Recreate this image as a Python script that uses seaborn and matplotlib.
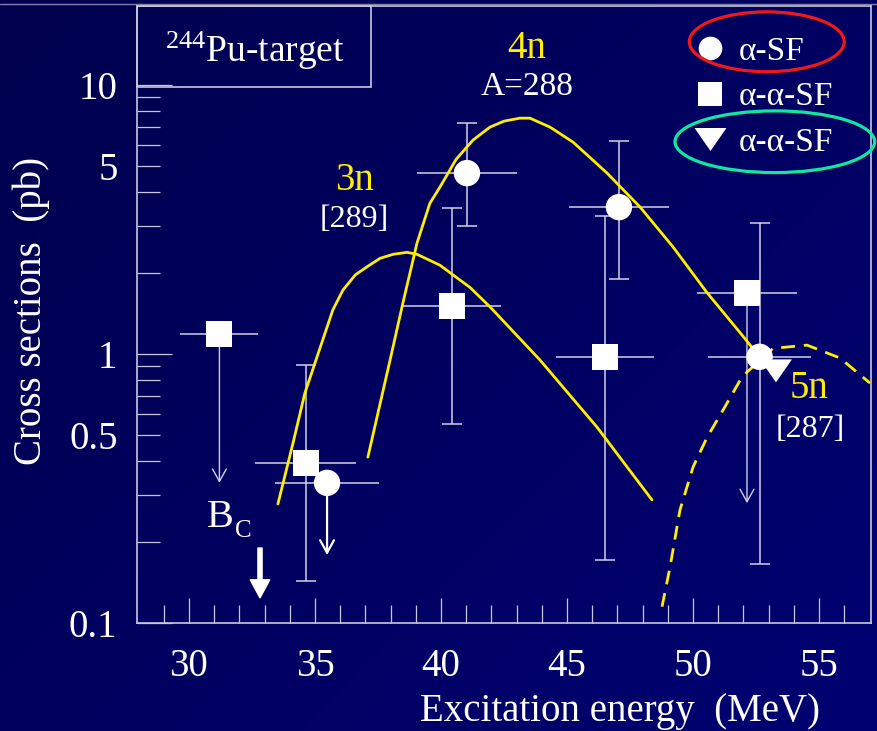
import numpy as np
import pandas as pd
import matplotlib
matplotlib.use("Agg")
import matplotlib.pyplot as plt
import seaborn as sns
from matplotlib.patches import Ellipse, Rectangle
from matplotlib.lines import Line2D
from matplotlib.path import Path
from matplotlib.ticker import FixedLocator, FuncFormatter

# ---------------- data ----------------
# calculated excitation functions
curve_3n_E = [33.53, 34.13, 34.60, 35.04, 35.71, 36.11, 36.60, 37.06, 37.58, 38.10, 38.65, 39.05, 39.96, 41.15, 41.94, 43.93, 46.19, 48.37]
curve_3n_sigma = [0.277, 0.467, 0.716, 0.95, 1.46, 1.73, 1.97, 2.11, 2.27, 2.35, 2.39, 2.35, 2.14, 1.77, 1.50, 0.95, 0.535, 0.287]

curve_4n_E = [37.10, 37.98, 38.49, 39.05, 39.56, 39.96, 40.60, 41.27, 41.94, 42.50, 43.13, 43.53, 44.33, 45.24, 46.59, 47.90, 49.21, 50.56, 51.87, 53.06]
curve_4n_sigma = [0.414, 0.95, 1.55, 2.59, 3.64, 4.18, 5.30, 6.25, 6.98, 7.35, 7.54, 7.54, 6.98, 6.14, 4.71, 3.52, 2.50, 1.69, 1.20, 0.873]

curve_5n_E = [48.77, 49.09, 49.48, 50.0, 50.56, 51.19, 51.87, 52.14, 53.17, 54.52, 55.83, 57.02]
curve_5n_sigma = [0.115, 0.162, 0.263, 0.380, 0.491, 0.619, 0.800, 0.857, 1.05, 1.08, 0.967, 0.780]

# alpha-SF (circles)
circ_E = [35.48, 41.03, 47.06, 52.64]
circ_sigma = [0.332, 4.71, 3.52, 0.977]
circ_xerr = [2.05, 2.0, 2.0, 2.05]
circ_bar_idx = [1, 2, 3]
circ_lo = [2.99, 1.90, 0.166]
circ_hi = [7.25, 6.20, 3.07]
circ_limit_idx = [0]
circ_limit_to = [0.179]

# alpha-alpha-SF (squares)
sq_E = [31.21, 34.64, 40.44, 46.50, 52.14]
sq_sigma = [1.19, 0.393, 1.51, 0.977, 1.686]
sq_xerr = [1.55, 2.0, 1.95, 1.95, 2.0]
sq_bar_idx = [1, 2, 3]
sq_lo = [0.143, 0.549, 0.171]
sq_hi = [0.91, 3.48, 3.27]
sq_limit_idx = [0, 4]
sq_limit_to = [0.332, 0.279]

# alpha-alpha-SF (triangle)
tri_E = [53.29]
tri_sigma = [0.866]

# Bass barrier
bass_E = 32.82
bass_from, bass_to = 0.190, 0.124

x_major = [30, 35, 40, 45, 50, 55]
x_minor = [29, 31, 32, 33, 34, 36, 37, 38, 39, 41, 42, 43, 44, 46, 47, 48, 49, 51, 52, 53, 54, 56]
y_major = [0.1, 1, 10]
y_minor = [0.2, 0.3, 0.4, 0.5, 0.6, 0.7, 0.8, 0.9, 2, 3, 4, 5, 6, 7, 8, 9]
y_minor_labeled = [0.5, 5]

legend_labels = ["α-SF", "α-α-SF", "α-α-SF"]

# ---------------- style ----------------
sns.set_theme(style="white")
plt.rcParams['font.family'] = ['Liberation Serif', 'DejaVu Serif']
plt.rcParams['mathtext.fontset'] = 'custom'
plt.rcParams['mathtext.rm'] = 'Liberation Serif'
plt.rcParams['mathtext.it'] = 'Liberation Serif:italic'

YEL = '#FFEE00'
BAR = '#D0D0E8'
SPINE = '#C8C8DC'

fig = plt.figure(figsize=(8.77, 7.31), dpi=100)

# background gradient
bg = fig.add_axes([0, 0, 1, 1], zorder=-10)
gx, gy = np.meshgrid(np.linspace(0, 1, 256), np.linspace(0, 1, 256))
t = 0.55 * gx + 0.45 * gy
img = np.zeros((256, 256, 3))
img[..., 2] = (0x4E + t * (0x72 - 0x4E)) / 255.0
bg.imshow(img, aspect='auto', origin='upper', extent=[0, 1, 0, 1])
bg.set_axis_off()
fig.add_artist(Line2D([0, 1], [1 - 3.5 / 731] * 2, color='#8080A8', lw=1.0))

ax = fig.add_axes([137 / 877, 108 / 731, 734 / 877, 617 / 731])
ax.set_facecolor('none')
ax.set_yscale('log')
ax.set_xlim(27.94, 57.06)
ax.set_ylim(0.1, 19.7)

# curves
df3 = pd.DataFrame({'E': curve_3n_E, 's': curve_3n_sigma})
df4 = pd.DataFrame({'E': curve_4n_E, 's': curve_4n_sigma})
df5 = pd.DataFrame({'E': curve_5n_E, 's': curve_5n_sigma})
sns.lineplot(data=df3, x='E', y='s', ax=ax, color=YEL, lw=2.0, zorder=3, estimator=None)
sns.lineplot(data=df4, x='E', y='s', ax=ax, color=YEL, lw=2.0, zorder=3, estimator=None)
sns.lineplot(data=df5, x='E', y='s', ax=ax, color=YEL, lw=2.0, zorder=3, estimator=None)
ax.lines[-1].set_linestyle((0, (5, 3.2)))

# horizontal error bars (no caps)
ax.errorbar(circ_E, circ_sigma, xerr=circ_xerr, fmt='none', ecolor=BAR, elinewidth=1.1, capsize=0, zorder=2)
ax.errorbar(sq_E, sq_sigma, xerr=sq_xerr, fmt='none', ecolor=BAR, elinewidth=1.1, capsize=0, zorder=2)

# vertical error bars with caps
def vbars(E, s, idx, lo, hi):
    e = [E[i] for i in idx]
    v = [s[i] for i in idx]
    yerr = [[v[k] - lo[k] for k in range(len(v))], [hi[k] - v[k] for k in range(len(v))]]
    ax.errorbar(e, v, yerr=yerr, fmt='none', ecolor=BAR, elinewidth=1.1,
                capsize=7.5, capthick=1.1, zorder=2)

vbars(circ_E, circ_sigma, circ_bar_idx, circ_lo, circ_hi)
vbars(sq_E, sq_sigma, sq_bar_idx, sq_lo, sq_hi)

# upper-limit arrows
def limit_arrow(E, s, to, lw):
    ax.annotate('', xy=(E, to), xytext=(E, s),
                arrowprops=dict(arrowstyle='->,head_length=0.45,head_width=0.25',
                                color=BAR if lw < 1.5 else 'white', lw=lw,
                                shrinkA=0, shrinkB=0, mutation_scale=20), zorder=2)

for i, to in zip(sq_limit_idx, sq_limit_to):
    limit_arrow(sq_E[i], sq_sigma[i], to, 1.0)
for i, to in zip(circ_limit_idx, circ_limit_to):
    limit_arrow(circ_E[i], circ_sigma[i], to, 1.6)

# markers
tri_path = Path([(-1, 0.72), (1, 0.72), (0, -0.72), (-1, 0.72)],
                [Path.MOVETO, Path.LINETO, Path.LINETO, Path.CLOSEPOLY])
sns.scatterplot(x=sq_E, y=sq_sigma, ax=ax, marker='s', s=26 ** 2 * 0.52, color='white',
                edgecolor='none', zorder=5)
sns.scatterplot(x=tri_E, y=tri_sigma, ax=ax, marker=tri_path, s=23 ** 2, color='white',
                edgecolor='none', zorder=5)
sns.scatterplot(x=circ_E, y=circ_sigma, ax=ax, marker='o', s=19 ** 2, color='white',
                edgecolor='none', zorder=6)

# Bass barrier arrow
ax.annotate('', xy=(bass_E, bass_to), xytext=(bass_E, bass_from),
            arrowprops=dict(arrowstyle='simple,head_length=13,head_width=14,tail_width=3',
                            color='white', shrinkA=0, shrinkB=0, mutation_scale=1), zorder=4)
ax.text(30.71, 0.228, 'B', color='white', fontsize=29, ha='left', va='baseline')
ax.text(31.83, 0.209, 'C', color='white', fontsize=18, ha='left', va='baseline')

# curve labels
ax.text(43.41, 12.6, '4n', color=YEL, fontsize=28, ha='center', va='baseline')
ax.text(43.43, 9.18, 'A=288', color='white', fontsize=24, ha='center', va='baseline')
ax.text(36.55, 4.07, '3n', color=YEL, fontsize=28, ha='center', va='baseline')
ax.text(36.55, 2.97, '[289]', color='white', fontsize=23, ha='center', va='baseline')
ax.text(54.6, 0.686, '5n', color=YEL, fontsize=28, ha='center', va='baseline')
ax.text(54.64, 0.491, '[287]', color='white', fontsize=23, ha='center', va='baseline')

# target box
ax.add_patch(Rectangle((0.0, 0.869), 0.319, 0.131, transform=ax.transAxes, fill=False,
                       edgecolor=SPINE, lw=1.2, clip_on=False, zorder=3))
ax.text(0.16, 0.909, r'$^{244}$Pu-target', transform=ax.transAxes, color='white',
        fontsize=27, ha='center', va='baseline')

# legend
handles = [
    Line2D([], [], marker='o', ls='none', color='white', markersize=17, markeredgewidth=0),
    Line2D([], [], marker='s', ls='none', color='white', markersize=17, markeredgewidth=0),
    Line2D([], [], marker=tri_path, ls='none', color='white', markersize=23, markeredgewidth=0),
]
leg = ax.legend(handles, legend_labels, loc='upper left', bbox_to_anchor=(0.763, 0.951),
                frameon=False, fontsize=24, handlelength=0.8, handletextpad=0.45,
                labelspacing=0.45, borderpad=0, borderaxespad=0, labelcolor='white')
ax.add_patch(Ellipse((0.858, 0.942), 0.211, 0.097, transform=ax.transAxes, fill=False,
                     edgecolor='#F01818', lw=2.3, clip_on=False, zorder=7))
ax.add_patch(Ellipse((0.869, 0.780), 0.272, 0.100, transform=ax.transAxes, fill=False,
                     edgecolor='#10E8A0', lw=2.3, clip_on=False, zorder=7))

# axes styling
for sp in ax.spines.values():
    sp.set_color(SPINE)
    sp.set_linewidth(1.2)
ax.xaxis.set_major_locator(FixedLocator(x_major))
ax.xaxis.set_minor_locator(FixedLocator(x_minor))
ax.yaxis.set_major_locator(FixedLocator(y_major))
ax.yaxis.set_minor_locator(FixedLocator(y_minor))
ax.xaxis.set_major_formatter(FuncFormatter(lambda v, p: f"{v:g}"))
ax.yaxis.set_major_formatter(FuncFormatter(lambda v, p: f"{v:g}"))
ax.yaxis.set_minor_formatter(FuncFormatter(
    lambda v, p: f"{v:g}" if any(abs(v - m) < 1e-9 for m in y_minor_labeled) else ""))
ax.tick_params(axis='both', which='both', direction='in', colors=SPINE, labelcolor='white',
               labelsize=28, width=0.9, bottom=True, left=True, top=False, right=False)
ax.tick_params(axis='x', which='major', length=18, pad=18)
ax.tick_params(axis='x', which='minor', length=13, pad=18)
ax.tick_params(axis='y', which='major', length=25, pad=14)
ax.tick_params(axis='y', which='minor', length=16.5, pad=14)

ax.set_xlabel('Excitation energy  (MeV)', color='white', fontsize=28)
ax.set_ylabel('Cross sections  (pb)', color='white', fontsize=28)
ax.xaxis.set_label_coords(0.658, -0.113)
ax.xaxis.label.set_va('top')
ax.yaxis.set_label_coords(-0.118, 0.505)

fig.savefig('out.png', dpi=100)
